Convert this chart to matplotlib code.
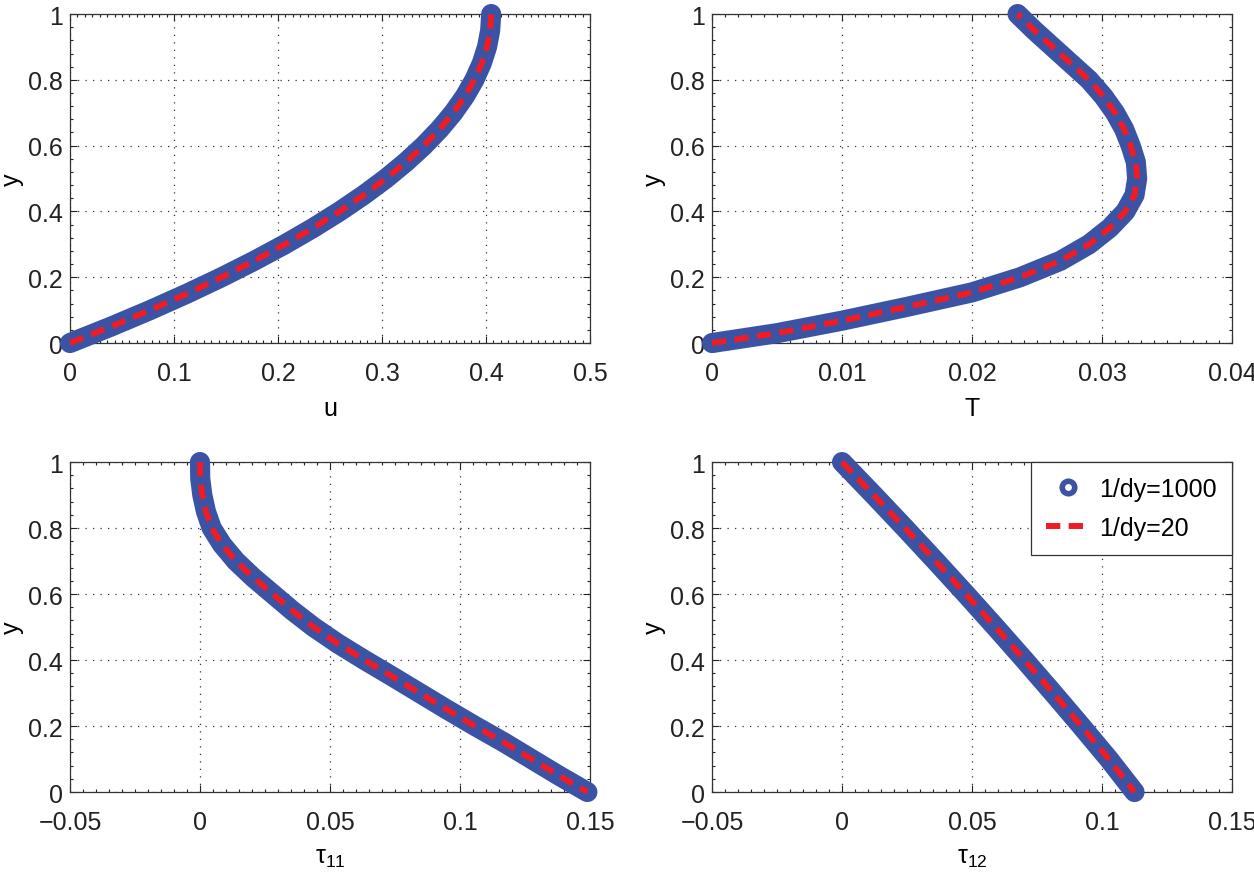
import numpy as np
import matplotlib.pyplot as plt
from matplotlib.ticker import MultipleLocator, AutoMinorLocator, FuncFormatter
from matplotlib import font_manager

# values
y_u = [0, 0.05, 0.1, 0.15, 0.2, 0.25, 0.3, 0.35, 0.4, 0.45, 0.5,
       0.55, 0.6, 0.65, 0.7, 0.75, 0.8, 0.85, 0.9, 0.95, 1.0]
u = [0, 0.0395, 0.077, 0.1124, 0.1458, 0.1772, 0.2066, 0.2339, 0.2592, 0.2825, 0.3038,
     0.323, 0.3402, 0.3554, 0.3686, 0.3797, 0.3888, 0.3959, 0.401, 0.404, 0.405]

y_T = [0, 0.03, 0.068, 0.11, 0.154, 0.2, 0.25, 0.3, 0.35, 0.4, 0.45, 0.5,
       0.55, 0.6, 0.65, 0.7, 0.75, 0.8, 0.85, 0.9, 0.95, 1.0]
T = [0, 0.005, 0.01, 0.015, 0.02, 0.0237, 0.0268, 0.029, 0.0306, 0.0318, 0.0325, 0.0327,
     0.0326, 0.0322, 0.0317, 0.031, 0.0301, 0.029, 0.0276, 0.0262, 0.0248, 0.0235]

y_t11 = [1.0, 0.95, 0.9, 0.85, 0.8, 0.75, 0.7, 0.65, 0.6, 0.55, 0.5,
         0.45, 0.4, 0.35, 0.3, 0.25, 0.2, 0.15, 0.1, 0.05, 0.0]
t11 = [0, 0.0001, 0.0009, 0.0023, 0.0045, 0.0085, 0.0138, 0.0205, 0.028, 0.0355, 0.0437,
       0.053, 0.0633, 0.074, 0.0845, 0.095, 0.1058, 0.117, 0.1275, 0.138, 0.149]

y_t12 = [1.0, 0.9, 0.8, 0.7, 0.6, 0.5, 0.4, 0.3, 0.2, 0.1, 0.0]
t12 = [0, 0.0122, 0.0242, 0.036, 0.0476, 0.059, 0.0702, 0.0812, 0.092, 0.1026, 0.1125]

panels = [
    (u, y_u, "u", (0, 0.5), 0.1, 14),
    (T, y_T, "T", (0, 0.04), 0.01, 10),
    (t11, y_t11, r"$\mathregular{\tau_{11}}$", (-0.05, 0.15), 0.05, 10),
    (t12, y_t12, r"$\mathregular{\tau_{12}}$", (-0.05, 0.15), 0.05, 10),
]

names = {f.name for f in font_manager.fontManager.ttflist}
fam = "Liberation Sans Narrow" if "Liberation Sans Narrow" in names else "Liberation Sans"
plt.rcParams["font.family"] = [fam, "DejaVu Sans"]
plt.rcParams["mathtext.default"] = "regular"
fs = 18

blue = "#3a53a4"
red = "#ee1c25"

fig = plt.figure(figsize=(12.54, 8.79), dpi=100)
rects = [
    [0.0558, 0.6086, 0.4147, 0.3743],
    [0.5678, 0.6086, 0.4147, 0.3743],
    [0.0558, 0.0978, 0.4147, 0.3754],
    [0.5678, 0.0978, 0.4147, 0.3754],
]


def fmt(v, pos):
    s = "%g" % round(v, 6)
    return s.replace("-", "\u2212")


for rect, (xs, ys, xl, xlim, xmaj, nmin) in zip(rects, panels):
    ax = fig.add_axes(rect)
    ax.plot(xs, ys, color=blue, lw=14.5, solid_capstyle="round",
            solid_joinstyle="round", clip_on=False, zorder=3)
    ax.plot(xs, ys, color=red, lw=4.3, dashes=(2.4, 1.4), clip_on=False, zorder=4)
    ax.set_xlim(*xlim)
    ax.set_ylim(0, 1)
    ax.xaxis.set_major_locator(MultipleLocator(xmaj))
    ax.yaxis.set_major_locator(MultipleLocator(0.2))
    ax.xaxis.set_minor_locator(AutoMinorLocator(nmin))
    ax.yaxis.set_minor_locator(AutoMinorLocator(5))
    ax.xaxis.set_major_formatter(FuncFormatter(fmt))
    ax.yaxis.set_major_formatter(FuncFormatter(fmt))
    ax.tick_params(which="both", direction="in", top=True, right=True,
                   labelsize=fs, width=0.8, colors="#222222")
    ax.tick_params(axis="x", which="major", length=5, pad=13)
    ax.tick_params(axis="y", which="major", length=5, pad=5)
    ax.tick_params(which="minor", length=2.5)
    ax.grid(True, which="major", color="#333333", linestyle=(0, (1, 5)), lw=0.9)
    for sp in ax.spines.values():
        sp.set_linewidth(0.9)
        sp.set_color("#333333")
    ax.set_xlabel(xl, fontsize=fs, labelpad=8)
    ax.set_ylabel("y", fontsize=fs)
    ax.yaxis.set_label_coords(-0.088, 0.5)

# legend proxies on the last panel
ax.plot([], [], "o", color=blue, mfc="white", mec=blue, mew=4, ms=9, label="1/dy=1000")
ax.plot([], [], color=red, lw=4.3, dashes=(2.4, 1.4), label="1/dy=20")
leg = ax.legend(loc="upper right", fontsize=fs, borderaxespad=0, fancybox=False,
                framealpha=1, edgecolor="#333333", handlelength=1.8,
                handletextpad=0.35, borderpad=0.6, labelspacing=0.6)
leg.get_frame().set_linewidth(0.9)

fig.savefig("out.png", dpi=100)
